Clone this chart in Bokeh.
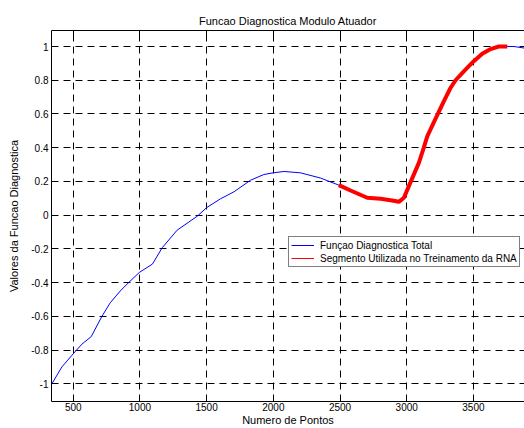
from bokeh.plotting import figure
from bokeh.models import (FixedTicker, CustomJSTickFormatter, LinearAxis, Range1d,
                          Legend, LegendItem, Grid)
from bokeh.embed import file_html
from bokeh.resources import INLINE

# --- data ---
total_x = [340, 415, 502, 565, 635, 715, 777, 852, 915, 995, 1094, 1167, 1279,
           1430, 1499, 1604, 1704, 1829, 1929, 1999, 2079, 2204, 2354, 2491,
           2579, 2704, 2804, 2891, 2941, 2979, 3016, 3091, 3128, 3154, 3203, 3278,
           3328, 3366, 3428, 3499, 3566, 3629, 3690, 3754, 3803, 3890]
total_y = [-1.0, -0.90, -0.82, -0.765, -0.72, -0.60, -0.52, -0.45, -0.40, -0.34,
           -0.29, -0.193, -0.089, -0.006, 0.044, 0.097, 0.138, 0.207, 0.241, 0.251,
           0.259, 0.251, 0.22, 0.178, 0.146, 0.103, 0.097, 0.087, 0.079, 0.103,
           0.172, 0.31, 0.40, 0.467, 0.55, 0.675, 0.754, 0.80, 0.852, 0.91, 0.957,
           0.985, 1.0, 1.0, 1.0, 0.99]

seg_x = [2491, 2579, 2704, 2804, 2891, 2941, 2979, 3016, 3091, 3128, 3154, 3203,
         3278, 3328, 3366, 3428, 3499, 3566, 3629, 3690, 3754]
seg_y = [0.178, 0.146, 0.103, 0.097, 0.087, 0.079, 0.103, 0.172, 0.31, 0.40,
         0.467, 0.55, 0.675, 0.754, 0.80, 0.852, 0.91, 0.957, 0.985, 1.0, 1.0]

x_ticks = [500, 1000, 1500, 2000, 2500, 3000, 3500]
y_ticks = [-1, -0.8, -0.6, -0.4, -0.2, 0, 0.2, 0.4, 0.6, 0.8, 1]

title_text = "Funcao Diagnostica Modulo Atuador"
x_label = "Numero de Pontos"
y_label = "Valores da Funcao Diagnostica"
legend_labels = ["Funçao Diagnostica Total",
                 "Segmento Utilizada no Treinamento da RNA"]

FONT = "Liberation Sans"

p = figure(width=524, height=428, output_backend="svg", toolbar_location=None,
           x_range=Range1d(337, 3883), y_range=Range1d(-1.105, 1.095),
           x_axis_location=None, y_axis_location=None,
           min_border_left=51, min_border_right=0, min_border_top=30,
           min_border_bottom=26)
p.outline_line_color = None
p.background_fill_color = "white"
p.border_fill_color = "white"

p.title.text = title_text
p.title.align = "center"
p.title.text_font = FONT
p.title.text_font_size = "11px"
p.title.text_font_style = "normal"
p.title.text_color = "black"
p.title.standoff = 8

fmt = CustomJSTickFormatter(code="return String(tick);")
blank = CustomJSTickFormatter(code="return '';")

xaxis = LinearAxis(ticker=FixedTicker(ticks=x_ticks), formatter=fmt,
                   axis_label=x_label)
yaxis = LinearAxis(ticker=FixedTicker(ticks=y_ticks), formatter=fmt,
                   axis_label=y_label)
topaxis = LinearAxis(ticker=FixedTicker(ticks=x_ticks), formatter=blank)

for ax in (xaxis, yaxis, topaxis):
    ax.major_tick_in = 5
    ax.major_tick_out = 0
    ax.minor_tick_in = 0
    ax.minor_tick_out = 0
    ax.axis_line_color = "black"
    ax.major_tick_line_color = "black"
    ax.major_label_text_font = FONT
    ax.major_label_text_font_size = "10px"
    ax.major_label_text_color = "black"
    ax.axis_label_text_font = FONT
    ax.axis_label_text_font_size = "11px"
    ax.axis_label_text_font_style = "normal"
    ax.axis_label_text_color = "black"
    ax.major_label_standoff = 1
    ax.axis_label_standoff = 0

topaxis.major_label_standoff = 0
yaxis.major_label_standoff = 3
yaxis.axis_label_standoff = 8

p.add_layout(xaxis, "below")
p.add_layout(yaxis, "left")
p.add_layout(topaxis, "above")

p.xgrid.grid_line_color = None
p.ygrid.grid_line_color = None
p.add_layout(Grid(dimension=0, ticker=xaxis.ticker, grid_line_color="black",
                  grid_line_dash="7 5", grid_line_width=1))
p.add_layout(Grid(dimension=1, ticker=yaxis.ticker, grid_line_color="black",
                  grid_line_dash="7 5", grid_line_width=1))

r1 = p.line(total_x, total_y, line_color="#0000FF", line_width=1)
r2 = p.line(seg_x, seg_y, line_color="#FF0000", line_width=4)
# thin red line (single point, draws nothing on the plot) used as the legend sample
r2_leg = p.line(seg_x[:1], seg_y[:1], line_color="#FF0000", line_width=1)

leg = Legend(items=[LegendItem(label=legend_labels[0], renderers=[r1]),
                    LegendItem(label=legend_labels[1], renderers=[r2_leg])],
             location=(237, 134))
leg.label_text_font = FONT
leg.label_text_font_size = "10px"
leg.label_text_color = "black"
leg.label_height = 12
leg.glyph_height = 12
leg.glyph_width = 23
leg.spacing = 1
leg.padding = 2
leg.margin = 0
leg.label_standoff = 6
leg.border_line_color = "black"
leg.border_line_width = 1
leg.background_fill_alpha = 1
p.add_layout(leg, "center")

open("out.html", "w").write(file_html(p, INLINE))
